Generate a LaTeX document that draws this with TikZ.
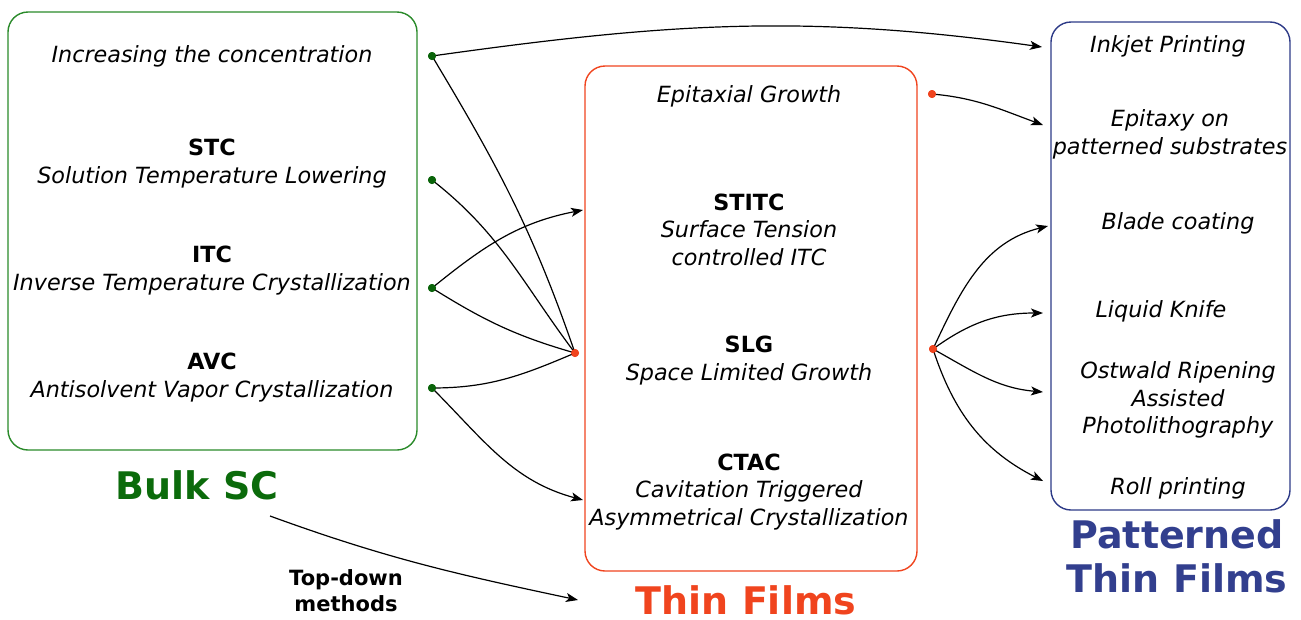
\documentclass[tikz,border=0pt]{standalone}
\usepackage{fontspec}
\setmainfont{DejaVu Sans}
\usetikzlibrary{arrows.meta}
\definecolor{bgreen}{HTML}{2A8A2A}
\definecolor{tgreen}{HTML}{0B6B0B}
\definecolor{dgreen}{HTML}{0A640A}
\definecolor{ored}{HTML}{F0441E}
\definecolor{nblue}{HTML}{2D3A87}
\definecolor{tblue}{HTML}{323F8E}
\begin{document}
\begin{tikzpicture}[x=1pt,y=1pt,
  panel/.style={draw, line width=1.4pt, rounded corners=20pt, inner sep=0pt},
  lbl/.style={align=center, inner sep=0pt, font=\fontsize{22.3}{27.5}\selectfont},
  title/.style={align=center, inner sep=0pt, font=\fontsize{38}{44}\selectfont\bfseries},
  gdot/.style={circle, fill=dgreen, inner sep=0pt, minimum size=8pt},
  rdot/.style={circle, fill=ored, inner sep=0pt, minimum size=8pt},
  conn/.style={line width=1.2pt},
  arr/.style={line width=1.2pt, -{Stealth[length=12pt,width=9pt,inset=3pt]}}
]
\useasboundingbox (0,0) rectangle (1301,-619);
% panels
\node[panel, draw=bgreen, minimum width=409pt, minimum height=438pt] (bulk) at (212.5,-231) {};
\node[panel, draw=ored, minimum width=332pt, minimum height=505pt] (thin) at (751,-318.5) {};
\node[panel, draw=nblue, minimum width=239pt, minimum height=488pt] (pat) at (1170.5,-266) {};
% green panel texts
\node[lbl] (inc) at (212,-56.5) {\textit{Increasing the concentration}};
\node[lbl] (stc) at (212,-163.5) {\textbf{STC}\\\textit{Solution Temperature Lowering}};
\node[lbl] (itc) at (212,-270.5) {\textbf{ITC}\\\textit{Inverse Temperature Crystallization}};
\node[lbl] (avc) at (212,-377.5) {\textbf{AVC}\\\textit{Antisolvent Vapor Crystallization}};
\node[title, text=tgreen] (bulkt) at (197,-485) {Bulk SC};
% red panel texts
\node[lbl] (epi) at (749,-96.5) {\textit{Epitaxial Growth}};
\node[lbl] (stitc) at (749,-229.5) {\textbf{STITC}\\\textit{Surface Tension}\\\textit{controlled ITC}};
\node[lbl] (slg) at (749,-360.5) {\textbf{SLG}\\\textit{Space Limited Growth}};
\node[lbl] (ctac) at (749,-492) {\textbf{CTAC}\\\textit{Cavitation Triggered}\\\textit{Asymmetrical Crystallization}};
\node[inner sep=0pt, font=\fontsize{38}{44}\selectfont\bfseries, text=ored] (thint) at (746,-600) {Thin Films};
% blue panel texts
\node[lbl] (ink) at (1168,-46.5) {\textit{Inkjet Printing}};
\node[lbl] (epat) at (1170,-134.5) {\textit{Epitaxy on}\\\textit{patterned substrates}};
\node[lbl] (blade) at (1178,-223.5) {\textit{Blade coating}};
\node[lbl] (knife) at (1161,-311.5) {\textit{Liquid Knife}};
\node[lbl] (ost) at (1178,-400) {\textit{Ostwald Ripening}\\\textit{Assisted}\\\textit{Photolithography}};
\node[lbl] (roll) at (1178,-488.5) {\textit{Roll printing}};
\node[title, text=tblue] (patt) at (1177,-556) {Patterned\\Thin Films};
% top-down label
\node[align=center, inner sep=0pt, font=\fontsize{21}{26}\selectfont\bfseries] (td) at (346,-591) {Top-down\\methods};
% dots
\node[gdot] (g1) at (432,-56) {};
\node[gdot] (g2) at (432,-180) {};
\node[gdot] (g3) at (432,-288) {};
\node[gdot] (g4) at (432,-388) {};
\node[rdot] (c) at (575,-353) {};
\node[rdot] (r1) at (932,-94) {};
\node[rdot] (r2) at (933,-349) {};
% arrow end points
\coordinate (eInk) at (1042,-47);
\coordinate (eStitc) at (583,-210);
\coordinate (eCtac) at (583,-500);
\coordinate (eEpat) at (1043,-125);
\coordinate (eBlade) at (1048,-226);
\coordinate (eKnife) at (1043,-313);
\coordinate (eOst) at (1043,-392);
\coordinate (eRoll) at (1043,-481);
\coordinate (sTd) at (270,-516);
\coordinate (eTd) at (578,-600);
% connectors
\draw[arr] (g1.center) to[out=8,in=172] (eInk);
\draw[conn] (g1.center) to[out=-59,in=109] (c.center);
\draw[conn] (g2.center) to[out=-38,in=127] (c.center);
\draw[arr] (g3.center) to[out=39,in=-169] (eStitc);
\draw[conn] (g3.center) to[out=-32,in=164] (c.center);
\draw[conn] (g4.center) to[out=0,in=-157] (c.center);
\draw[arr] (g4.center) to[out=-45,in=165] (eCtac);
\draw[arr] (r1.center) to[out=-5,in=160] (eEpat);
\draw[arr] (r2.center) to[out=65,in=-166] (eBlade);
\draw[arr] (r2.center) to[out=36,in=180] (eKnife);
\draw[arr] (r2.center) to[out=-29,in=175] (eOst);
\draw[arr] (r2.center) to[out=-72,in=153] (eRoll);
\draw[arr] (sTd) to[out=-20,in=168] (eTd);
% redraw dots on top
\node[gdot] at (g1) {};
\node[gdot] at (g2) {};
\node[gdot] at (g3) {};
\node[gdot] at (g4) {};
\node[rdot] at (c) {};
\node[rdot] at (r1) {};
\node[rdot] at (r2) {};
\end{tikzpicture}
\end{document}
